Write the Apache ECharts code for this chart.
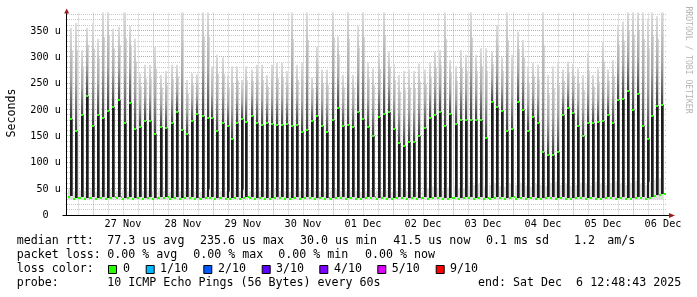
<!DOCTYPE html>
<html><head><meta charset="utf-8">
<script src="https://cdn.jsdelivr.net/npm/echarts@6/dist/echarts.min.js"></script>
<style>html,body{margin:0;padding:0;background:#fff}#c{width:697px;height:297px}</style>
</head><body><div id="c"></div>
<script>
// ---- DATA (hours relative to 27 Nov 00:00) ----
const spikeHours = [-8.9,-6.8,-4.5,-2.3,-0.1,2.1,4.1,6.1,8.1,10.5, 12.8,14.8,16.8,18.8,20.8,22.8,24.8,27.2,29.2,31.5, 33.5,35.7,37.7,39.5,41.7,43.9,45.9,47.7,49.7,51.9, 54.1,55.7,57.5,59.5,61.2,63.5,65.5,67.5,69.5,71.5, 73.5,75.5,77.5,79.5,81.5,83.5,85.5,87.5,89.5,91.7, 93.7,95.9,98.1,100.1,102.1,104.1,106.1,108.1,110.1,112.1, 114.5,116.5,118.5,120.5,122.5,124.5,126.5,128.5,130.5,132.8, 134.8,136.8,138.8,140.8,142.8,145.2,147.2,149.2,151.2,153.2, 155.2,157.2,159.5,161.5,163.5,165.5,167.5,169.9,171.9,174.1, 175.9,178.1,179.9,182.1,184.1,186.1,188.1,190.1,192.1,194.1, 196.1,198.1,200.1,202.1,204.1,206.1,208.1,210.1,212.1,214.1, 216.1,218.1,220.1,221.9,223.7,225.7,227.7];
const medianPeak = [183,160,190,227,170,190,185,199,205,220, 176,213,165,168,180,180,155,168,166,176, 196,163,154,179,192,189,185,185,160,175, 170,145,175,183,178,189,176,172,175,174, 172,172,174,170,172,159,163,180,189,170, 159,181,203,170,171,168,196,183,168,150, 187,192,197,165,137,131,140,140,150,166, 185,190,197,170,193,174,182,182,181,181, 181,147,215,206,198,161,165,216,200,160, 187,175,120,115,115,120,191,204,194,170, 150,175,175,178,180,190,175,219,221,237, 201,231,170,146,189,208,209];
const smokeMax = [356,365,314,356,365,335,390,390,354,358, 390,360,335,270,286,286,320,267,274,286, 286,390,257,270,268,390,390,283,305,300, 267,283,283,257,283,277,286,286,267,286, 289,290,274,390,286,290,390,262,320,277, 277,390,340,267,390,267,359,390,290,279, 308,390,311,288,267,274,277,274,288,277, 290,311,314,390,295,283,314,305,390,305, 317,317,311,362,300,390,305,349,333,283, 290,286,390,267,283,290,277,292,288,279, 267,308,267,279,330,277,295,359,368,390, 390,390,390,374,390,378,390];
const troughMedian = [37,34,35,34,36,33,35,34,36,35, 34,35,33,36,34,35,34,36,35,33, 35,34,36,35,34,33,35,36,34,35, 34,33,35,34,36,35,34,35,33,34, 36,35,34,33,35,34,36,35,34,35, 33,34,36,35,34,35,34,33,35,36, 34,35,33,34,35,36,34,35,33,35, 34,36,35,34,33,35,34,36,35,34, 35,33,34,36,35,34,35,33,36,34, 35,34,33,35,36,34,35,34,33,35, 36,34,35,33,34,36,35,34,35,33, 34,36,35,34,35,38,40];
const troughSmokeTop = [50,46,48,47,52,45,48,46,50,47, 48,46,49,45,47,48,46,50,47,45, 48,46,47,49,46,45,48,50,46,47, 46,45,48,47,49,46,45,47,46,48, 50,47,46,45,48,47,46,49,47,46, 45,48,50,47,46,48,47,45,46,49, 47,46,48,45,47,50,46,48,45,47, 52,55,50,48,53,55,50,52,56,58, 60,55,58,62,56,55,60,58,62,57, 55,60,58,56,62,64,58,60,56,58, 62,60,57,64,60,58,62,65,60,58, 62,66,60,58,64,68,70];
const smokeMin = 30;

const xLabelHours = [12,36,60,84,108,132,156,180,204,228];
const xLabelTexts = ['27 Nov','28 Nov','29 Nov','30 Nov','01 Dec','02 Dec','03 Dec','04 Dec','05 Dec','06 Dec'];
const xMajorGrid = [0,24,48,72,96,120,144,168,192,216];
const xMinorGrid = [-6,6,12,18,30,36,42,54,60,66,78,84,90,102,108,114,126,132,138,150,156,162,174,180,186,198,204,210,222,228];
const yMajorGrid = [50,100,150,200,250,300,350];
const yMinorGrid = [10,20,30,40,60,70,80,90,110,120,130,140,160,170,180,190,210,220,230,240,260,270,280,290,310,320,330,340,360,370,380];

const rttLabel = 'median rtt:';
const rttStats = ['77.3 us avg','235.6 us max','30.0 us min','41.5 us now','0.1 ms sd','1.2','am/s'];
const lossLabel = 'packet loss:';
const lossStats = ['0.00 % avg','0.00 % max','0.00 % min','0.00 % now'];
const lossColorLabel = 'loss color:';
const lossLabels = ['0','1/10','2/10','3/10','4/10','5/10','9/10'];
const lossColors = ['#26ff00','#00b8ff','#0059ff','#5e00ff','#7e00ff','#dd00ff','#ff0000'];
const probeLabel = 'probe:';
const probeText = '10 ICMP Echo Pings (56 Bytes) every 60s';
const endText = 'end: Sat Dec  6 12:48:43 2025';

// ---- LAYOUT ----
const MONO = "'DejaVu Sans Mono', monospace";
const LF = '11.65px ' + MONO;
const rttX = [107.3,200,300,393.3,486,574,607.3];
const lossX = [107.3,193.3,278.3,365];
const boxX = [108,145.7,203.3,261.7,319.3,377.3,435.7];
const boxLabelX = [123,160,218,276,334,391.7,450];

const spikeData = spikeHours.map((h,i)=>[h, medianPeak[i], smokeMax[i], troughMedian[i], troughSmokeTop[i]]);
const gridData = [];
xMinorGrid.forEach(v=>gridData.push([v,0,0]));
yMinorGrid.forEach(v=>gridData.push([0,v,2]));
xMajorGrid.forEach(v=>gridData.push([v,0,1]));
yMajorGrid.forEach(v=>gridData.push([0,v,3]));
const labelMap = {}; xLabelHours.forEach((h,i)=>labelMap[h]=xLabelTexts[i]);

function gridRender(params, api){
  const cs = params.coordSys;
  const kind = api.value(2);
  let shape;
  if (kind < 2) {
    const x = Math.round(api.coord([api.value(0),0])[0]) + 0.5;
    shape = {x1:x, y1:cs.y, x2:x, y2:cs.y+cs.height};
  } else {
    const y = Math.round(api.coord([0,api.value(1)])[1]) - 0.5;
    shape = {x1:cs.x, y1:y, x2:cs.x+cs.width, y2:y};
  }
  return {type:'line', shape, silent:true,
    style:{stroke: (kind%2) ? '#e59898' : '#c8c8c8', lineWidth:1, lineDash:[1,1]}};
}

function spikeRender(params, api){
  const t = api.value(0);
  const pMed = api.coord([t, api.value(1)]);
  const px = Math.round(pMed[0]);
  const yMed = Math.round(pMed[1]);
  const yMax = api.coord([t, api.value(2)])[1];
  const yTr = Math.round(api.coord([t, api.value(3)])[1]);
  const yTT = api.coord([t, api.value(4)])[1];
  const yMin = api.coord([t, smokeMin])[1];
  const h = yTr - yMed;
  return {type:'group', children:[
    {type:'rect', shape:{x:px-3, y:yTT, width:5, height:yMin-yTT}, style:{fill:'#dedede'}},
    {type:'rect', shape:{x:px+1, y:yMax+(yMed-yMax)*0.25, width:1, height:(yMed-yMax)*0.75}, style:{fill:'#d4d4d4'}},
    {type:'rect', shape:{x:px+1, y:yMed, width:1, height:h}, style:{fill:'#5c5c5c'}},
    {type:'rect', shape:{x:px-1, y:yMax, width:2, height:yMed-yMax},
      style:{fill:{type:'linear',x:0,y:0,x2:0,y2:1,colorStops:[{offset:0,color:'#dedede'},{offset:0.55,color:'#a6a6a6'},{offset:1,color:'#3c3c3c'}]}}},
    {type:'rect', shape:{x:px-1, y:yMed, width:2, height:h}, style:{fill:'#1c1c1c'}},
    {type:'rect', shape:{x:px-1, y:yMed-1, width:2, height:2}, style:{fill:'#26ff00'}},
    {type:'rect', shape:{x:px+2, y:yTr-1, width:2, height:2}, style:{fill:'#26ff00'}},
    {type:'rect', shape:{x:px-3, y:yTr, width:2, height:2}, style:{fill:'#26ff00'}}
  ]};
}

const G = {left:67, top:12.5, width:600, height:203};
const bottomY = G.top + G.height;

const graphics = [];
function txt(x,y,text,font){
  graphics.push({type:'text', x:x, y:y, z:100, silent:true,
    style:{text:text, font:font, fill:'#000', textAlign:'left', textVerticalAlign:'middle', align:'left', verticalAlign:'middle'}});
}
graphics.push({type:'line', z:100, silent:true, shape:{x1:62.5,y1:bottomY,x2:669,y2:bottomY}, style:{stroke:'#000',lineWidth:1}});
graphics.push({type:'line', z:100, silent:true, shape:{x1:66.5,y1:bottomY+0.5,x2:66.5,y2:13}, style:{stroke:'#000',lineWidth:1}});
graphics.push({type:'polygon', z:101, silent:true, shape:{points:[[64.2,13.5],[69.2,13.5],[66.7,8.5]]}, style:{fill:'#9b1f1f'}});
graphics.push({type:'polygon', z:101, silent:true, shape:{points:[[669,213],[669,218],[675,215.5]]}, style:{fill:'#9b1f1f'}});
graphics.push({type:'text', x:11.5, y:113, rotation:Math.PI/2, z:100, silent:true,
  style:{text:'Seconds', font:LF, fill:'#000', textAlign:'center', textVerticalAlign:'middle', align:'center', verticalAlign:'middle'}});
graphics.push({type:'text', x:688.5, y:60, rotation:-Math.PI/2, z:100, silent:true,
  style:{text:'RRDTOOL / TOBI OETIKER', font:'8.1px '+MONO, fill:'#b4b4b4', textAlign:'center', textVerticalAlign:'middle', align:'center', verticalAlign:'middle'}});
txt(16.7,241,rttLabel,LF);
rttStats.forEach((s,i)=>txt(rttX[i],241,s,LF));
txt(16.7,255,lossLabel,LF);
lossStats.forEach((s,i)=>txt(lossX[i],255,s,LF));
txt(16.7,269,lossColorLabel,LF);
lossLabels.forEach((s,i)=>{
  graphics.push({type:'rect', z:100, silent:true, shape:{x:boxX[i]+0.5,y:265.5,width:8,height:8}, style:{fill:lossColors[i], stroke:'#000', lineWidth:1}});
  txt(boxLabelX[i],269,s,LF);
});
txt(16.7,283,probeLabel,LF);
txt(107.3,283,probeText,LF);
txt(478,283,endText,LF);

const option = {
  animation:false,
  backgroundColor:'#fff',
  grid:{left:G.left, top:G.top, width:G.width, height:G.height, containLabel:false},
  xAxis:{type:'value', min:-10.4, max:229.6,
    axisLine:{show:false}, axisTick:{show:false}, splitLine:{show:false},
    axisLabel:{customValues:xLabelHours, formatter:v=>labelMap[v]||'', fontFamily:MONO, fontSize:10.2, color:'#000', margin:4}},
  yAxis:{type:'value', min:0, max:385, interval:50,
    axisLine:{show:false}, axisTick:{show:false}, splitLine:{show:false},
    axisLabel:{formatter:v=> v===0 ? '0\u00a0\u00a0' : (v%50===0 && v<=350 ? v+' u' : ''), fontFamily:MONO, fontSize:10.2, color:'#000', margin:6}},
  series:[
    {type:'custom', name:'grid', data:gridData, renderItem:gridRender, z:1, silent:true, clip:true},
    {type:'custom', name:'median', data:spikeData, renderItem:spikeRender, z:2, silent:true, clip:true, encode:{x:0,y:1}}
  ],
  graphic:{elements:graphics}
};
const chart = echarts.init(document.getElementById('c'), null, {renderer:'canvas'});
chart.setOption(option);
</script></body></html>
